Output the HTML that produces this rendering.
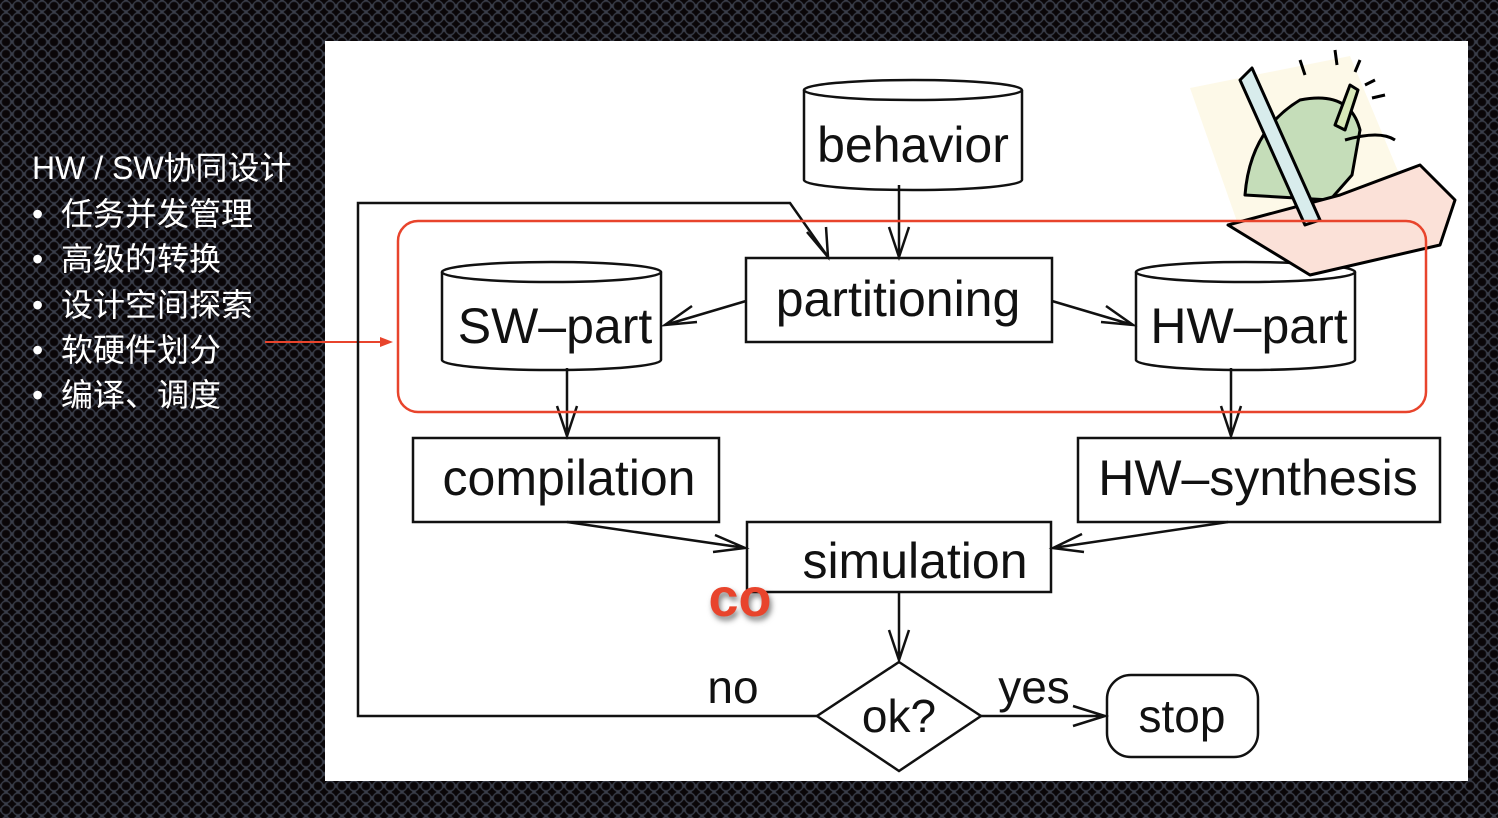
<!DOCTYPE html>
<html><head><meta charset="utf-8"><style>
html,body{margin:0;padding:0;width:1498px;height:818px;overflow:hidden}
body{background-color:#2e313a;background-image:radial-gradient(circle at 50% 50%,#0a0608 0,#0a0608 3.5px,#3e4350 5px,transparent 6px),radial-gradient(circle at 50% 50%,#0a0608 0,#0a0608 3.5px,#3e4350 5px,transparent 6px);background-size:12px 12px;background-position:0 0,6px 6px}
.t{position:absolute;color:#fff;font-family:"Liberation Sans","Noto Sans CJK SC",sans-serif;font-size:32px;left:32px;white-space:nowrap;line-height:36px}
</style></head><body>
<div class="t" style="top:150px">HW / SW协同设计</div>
<div class="t" style="top:196px">•&nbsp; 任务并发管理</div>
<div class="t" style="top:241px">•&nbsp; 高级的转换</div>
<div class="t" style="top:287px">•&nbsp; 设计空间探索</div>
<div class="t" style="top:332px">•&nbsp; 软硬件划分</div>
<div class="t" style="top:377px">•&nbsp; 编译、调度</div>
<svg width="1498" height="818" style="position:absolute;left:0;top:0" font-family="Liberation Sans, sans-serif">
<rect x="325" y="41" width="1143" height="740" fill="#fff"/>
<line x1="265" y1="342" x2="388" y2="342" stroke="#e8442c" stroke-width="2"/>
<path d="M380 337 L393 342 L380 347 Z" fill="#e8442c"/>
<g stroke="#111" stroke-width="2.5" fill="none">
<path d="M804 90 V180 A109 10 0 0 0 1022 180 V90" fill="#fff"/>
<ellipse cx="913" cy="90" rx="109" ry="10" fill="#fff"/>
<path d="M442 272 V360 A109 10 0 0 0 661 360 V272" fill="#fff"/>
<ellipse cx="551.5" cy="272" rx="109.5" ry="10" fill="#fff"/>
<path d="M1136 272 V360 A109 10 0 0 0 1355 360 V272" fill="#fff"/>
<ellipse cx="1245.5" cy="272" rx="109.5" ry="10" fill="#fff"/>
<rect x="746" y="258" width="306" height="84"/>
<rect x="413" y="438" width="306" height="84"/>
<rect x="1078" y="438" width="362" height="84"/>
<rect x="747" y="522" width="304" height="70"/>
<path d="M899 662 L981 716 L899 771 L817 716 Z"/>
<rect x="1107" y="675" width="151" height="82" rx="24"/>
<path d="M817 716 H358 V203 H790 L828 257"/>
<path d="M807 232 L828 257 L826 227"/>
<path d="M899 185 V257 M889 227 L899 257 L909 227"/>
<path d="M746 301 L665 325 M692 306 L665 325 L697 322"/>
<path d="M1052 301 L1133 325 M1106 306 L1133 325 L1101 322"/>
<path d="M567 368 V436 M557 406 L567 436 L577 406"/>
<path d="M1231 368 V436 M1221 406 L1231 436 L1241 406"/>
<path d="M567 522 L745 548 M715 535 L745 548 L713 552"/>
<path d="M1228 522 L1053 548 M1082 534 L1053 548 L1084 552"/>
<path d="M899 592 V660 M889 630 L899 660 L909 630"/>
<path d="M981 716 H1105 M1073 706 L1105 716 L1073 726"/>
</g>
<g font-size="50" fill="#111" text-anchor="middle">
<text x="913" y="162">behavior</text>
<text x="898" y="316">partitioning</text>
<text x="555" y="343">SW–part</text>
<text x="1249" y="343">HW–part</text>
<text x="569" y="495">compilation</text>
<text x="1258" y="495">HW–synthesis</text>
<text x="915" y="578">simulation</text>
<text x="899" y="732" font-size="46">ok?</text>
<text x="1182" y="732" font-size="46">stop</text>
<text x="733" y="703" font-size="46">no</text>
<text x="1034" y="703" font-size="46">yes</text>
</g>
<text x="740" y="616" font-size="54" font-weight="bold" fill="#e8442c" text-anchor="middle" style="filter:drop-shadow(2px 4px 3px rgba(0,0,0,.5))">co</text>
<g stroke="#000" stroke-width="3" stroke-linejoin="round">
<path d="M1190 88 L1350 56 L1410 200 L1240 230 Z" fill="#fdf9e8" stroke="none"/>
<path d="M1245 195 Q1250 130 1300 100 Q1350 90 1360 130 L1352 175 L1330 200 Z" fill="#c5ddb9"/>
<path d="M1228 225 L1340 195 L1420 165 L1455 200 L1440 245 L1310 275 Z" fill="#fbe1d8"/>
<path d="M1240 80 L1252 68 L1320 220 L1305 225 Z" fill="#d8ecec"/>
<path d="M1335 125 L1350 85 L1358 90 L1345 130 Z" fill="#d8e8b8"/>
<path d="M1345 140 Q1380 130 1395 140" fill="none"/>
<path d="M1300 60 L1305 75 M1335 50 L1337 65 M1360 60 L1355 72 M1375 80 L1365 85 M1385 95 L1372 98" fill="none"/>
</g>
<rect x="398" y="221" width="1028" height="191" rx="20" fill="none" stroke="#e8442c" stroke-width="2.5"/>
</svg>
</body></html>
